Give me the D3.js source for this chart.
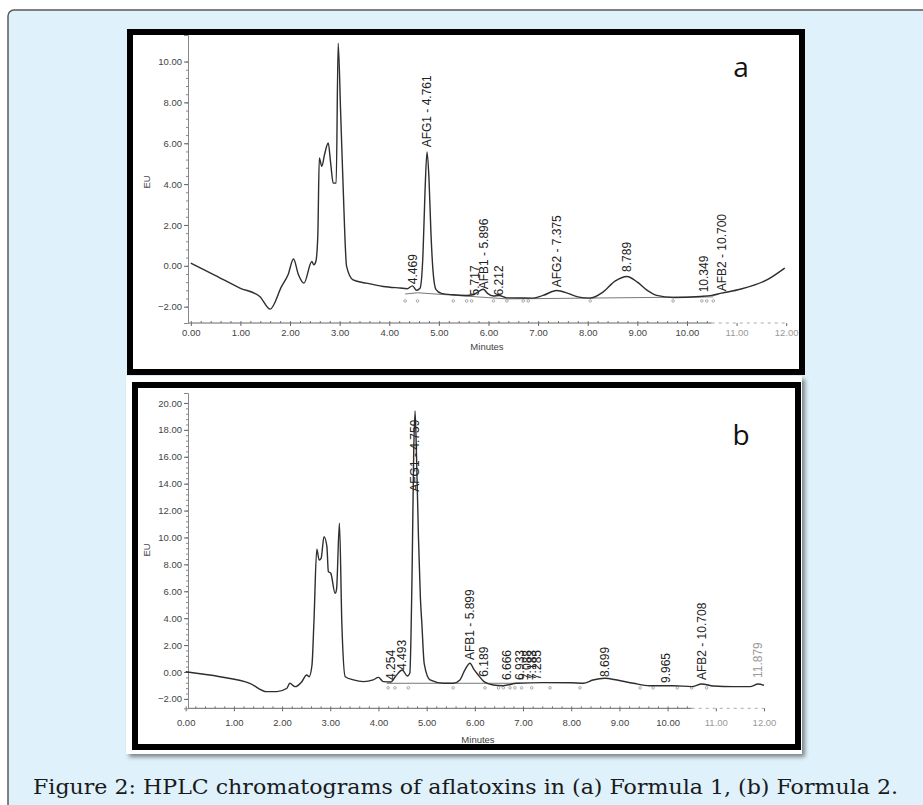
<!DOCTYPE html>
<html>
<head>
<meta charset="utf-8">
<script src="https://cdn.jsdelivr.net/npm/d3@7"></script>
<style>
  body { margin: 0; background: #fff; }
  svg { display: block; }
</style>
</head>
<body>
<div id="wrapper"></div>
<script>
// ---- data: panel a (Formula 1) ----
const timeA  = [0, 0.5, 0.99, 1.39, 1.60, 1.83, 1.96, 2.07, 2.17, 2.28, 2.44, 2.48, 2.52, 2.56, 2.59, 2.64, 2.70, 2.77, 2.82, 2.87, 2.93, 2.97, 3.02, 3.07, 3.14, 3.27, 3.54, 3.88, 4.22, 4.36, 4.469, 4.55, 4.62, 4.68, 4.72, 4.761, 4.80, 4.84, 4.88, 4.94, 5.05, 5.29, 5.55, 5.69, 5.76, 5.896, 5.98, 6.10, 6.212, 6.37, 6.90, 7.10, 7.375, 7.60, 7.80, 8.04, 8.30, 8.55, 8.789, 9.00, 9.20, 9.39, 9.72, 10.27, 10.50, 10.70, 11.07, 11.61, 11.97]
const valueA = [0.13, -0.48, -1.09, -1.5, -2.12, -1.01, -0.44, 0.33, -0.44, -0.85, 0.21, 0.05, 0.21, 1.5, 5.28, 4.87, 5.5, 6.01, 5.0, 4.05, 4.05, 10.9, 7.5, 3.89, -0.03, -0.69, -0.85, -1.01, -1.09, -1.12, -0.98, -1.2, -1.1, 0.6, 3.6, 5.58, 4.3, 1.6, -0.2, -1.15, -1.35, -1.42, -1.45, -1.42, -1.32, -1.15, -1.35, -1.48, -1.45, -1.57, -1.58, -1.45, -1.21, -1.35, -1.52, -1.58, -1.3, -0.75, -0.52, -0.8, -1.2, -1.45, -1.55, -1.5, -1.45, -1.34, -1.15, -0.69, -0.11]
const peakTimeA  = [4.469, 4.761, 5.717, 5.896, 6.212, 7.375, 8.789, 10.349, 10.700]
const peakNameA  = ["", "AFG1", "", "AFB1", "", "AFG2", "", "", "AFB2"]
const peakLabelA = [-0.9, 5.8, -1.45, -1.15, -1.45, -1.05, -0.3, -1.3, -1.25]
const baseTimeA  = [4.32, 4.57, 6.37, 10.53]
const baseValueA = [-1.38, -1.32, -1.62, -1.52]
const markTimeA  = [4.32, 4.57, 5.29, 5.56, 5.66, 6.10, 6.37, 6.70, 6.80, 8.05, 9.72, 10.30, 10.40, 10.53]

// ---- data: panel b (Formula 2) ----
const timeB  = [0, 0.71, 1.33, 1.68, 1.89, 2.10, 2.16, 2.27, 2.41, 2.51, 2.56, 2.62, 2.66, 2.72, 2.77, 2.81, 2.87, 2.93, 2.96, 3.01, 3.10, 3.13, 3.19, 3.24, 3.31, 3.48, 3.69, 3.89, 4.0, 4.10, 4.254, 4.36, 4.493, 4.6, 4.65, 4.70, 4.73, 4.759, 4.79, 4.83, 4.87, 4.90, 4.95, 5.07, 5.35, 5.55, 5.69, 5.80, 5.899, 5.98, 6.07, 6.189, 6.38, 6.59, 6.87, 7.42, 8.0, 8.25, 8.45, 8.699, 8.95, 9.29, 9.63, 10.12, 10.5, 10.708, 10.95, 11.36, 11.71, 11.879, 12.0]
const valueB = [0.02, -0.35, -0.84, -1.46, -1.46, -1.21, -0.84, -1.09, -0.72, -0.22, -0.35, 0.5, 3.62, 9.12, 8.33, 8.45, 10.06, 9.32, 7.46, 7.34, 5.85, 6.15, 11.06, 3.62, -0.35, -0.59, -0.72, -0.59, -0.4, -0.72, -0.75, -0.3, 0.15, -0.3, -0.1, 8.0, 16.0, 19.4, 16.0, 10.0, 5.5, 3.62, 0.6, -0.59, -0.84, -0.84, -0.59, 0.2, 0.65, 0.2, -0.22, -0.72, -0.97, -1.02, -0.84, -0.79, -0.8, -0.84, -0.6, -0.47, -0.6, -0.84, -1.02, -1.02, -1.09, -0.89, -1.04, -1.09, -1.09, -0.89, -1.0]
const peakTimeB  = [4.254, 4.493, 4.759, 5.899, 6.189, 6.666, 6.933, 7.088, 7.183, 7.285, 8.699, 9.965, 10.708, 11.879]
const peakNameB  = ["", "", "AFG1", "AFB1", "", "", "", "", "", "", "", "", "AFB2", ""]
const peakLabelB = [-0.59, 0.15, 13.4, 0.89, -0.35, -0.6, -0.6, -0.6, -0.6, -0.6, -0.37, -0.82, -0.6, -0.45]
const baseTimeB  = [4.17, 6.94]
const baseValueB = [-0.84, -0.84]
const markTimeB  = [4.20, 4.34, 4.62, 5.55, 6.21, 6.49, 6.59, 6.73, 6.83, 6.97, 7.18, 7.56, 8.18, 9.43, 9.70, 10.20, 10.50, 10.81]

const xTicks  = d3.range(0, 13)
const yTicksA = [-2, 0, 2, 4, 6, 8, 10]
const yTicksB = [-2, 0, 2, 4, 6, 8, 10, 12, 14, 16, 18, 20]
const caption = "Figure 2: HPLC chromatograms of aflatoxins in (a) Formula 1, (b) Formula 2."

// ---- layout ----
const width = 923, height = 805
const svg = d3.select("#wrapper").append("svg")
    .attr("width", width).attr("height", height)

const defs = svg.append("defs")
const shadow = defs.append("filter").attr("id", "shadow")
    .attr("x", "-5%").attr("y", "-5%").attr("width", "110%").attr("height", "110%")
shadow.append("feDropShadow").attr("dx", 3).attr("dy", 3)
    .attr("stdDeviation", 2).attr("flood-color", "#000").attr("flood-opacity", 0.45)

// light blue figure box
svg.append("rect").attr("x", 8).attr("y", 10).attr("width", width).attr("height", height)
    .attr("rx", 6).attr("fill", "#dff1fb")
    .attr("stroke", "#5a5a5a").attr("stroke-width", 1.5)

// panel frames
svg.append("rect").attr("x", 130).attr("y", 32).attr("width", 672).attr("height", 340)
    .attr("fill", "#fff").attr("stroke", "#000").attr("stroke-width", 6)
svg.append("rect").attr("x", 126).attr("y", 376).attr("width", 676).attr("height", 378)
    .attr("fill", "#fff").attr("filter", "url(#shadow)")
svg.append("rect").attr("x", 135).attr("y", 385).attr("width", 663).attr("height", 362)
    .attr("fill", "#fff").attr("stroke", "#000").attr("stroke-width", 6)

const panels = [
  { letter: "a", time: timeA, value: valueA, peakTime: peakTimeA, peakName: peakNameA, peakLabel: peakLabelA,
    baseTime: baseTimeA, baseValue: baseValueA, markTime: markTimeA, markValue: -1.72, yTicks: yTicksA,
    xRange: [190.8, 786.2], yDomain: [-2.8, 11.3], yRange: [323, 35], yAxisX: 188, xPad: 3,
    eu: [150, 182], minutes: [487, 350], letterPos: [741, 77] },
  { letter: "b", time: timeB, value: valueB, peakTime: peakTimeB, peakName: peakNameB, peakLabel: peakLabelB,
    baseTime: baseTimeB, baseValue: baseValueB, markTime: markTimeB, markValue: -1.18, yTicks: yTicksB,
    xRange: [185.7, 764], yDomain: [-2.7, 20.74], yRange: [708.3, 393], yAxisX: 188, xPad: 8,
    eu: [150, 550], minutes: [478, 743], letterPos: [741, 445] }
]

const tickFont = "'Liberation Sans', Arial, sans-serif"

function drawPanel(p) {
  const x = d3.scaleLinear().domain([0, 12]).range(p.xRange)
  const y = d3.scaleLinear().domain(p.yDomain).range(p.yRange)
  const g = svg.append("g")
  const axisY = y(p.yDomain[0])

  // minor ticks
  g.append("g").attr("transform", `translate(0,${axisY})`)
    .call(d3.axisBottom(x).tickValues(d3.range(0, 10.51, 0.2)).tickSize(-2).tickFormat(""))
    .call(a => a.select(".domain").remove())
    .selectAll("line").attr("stroke", "#777")
  g.append("g").attr("transform", `translate(${p.yAxisX},0)`)
    .call(d3.axisLeft(y).tickValues(d3.range(p.yTicks[0], p.yTicks[p.yTicks.length - 1] + 0.01, 0.4)).tickSize(2).tickFormat(""))
    .call(a => a.select(".domain").remove())
    .selectAll("line").attr("stroke", "#888")

  // x axis
  const xAxis = g.append("g").attr("transform", `translate(0,${axisY})`)
    .call(d3.axisBottom(x).tickValues(xTicks).tickSize(3).tickPadding(p.xPad).tickFormat(d3.format(".2f")))
  xAxis.select(".domain").remove()
  xAxis.selectAll("line").attr("stroke", "#666")
  xAxis.selectAll("text").attr("font-family", tickFont).attr("font-size", 9.5)
    .attr("fill", d => d > 10.5 ? "#999" : "#444")
  g.append("line").attr("x1", p.yAxisX).attr("x2", x(10.5)).attr("y1", axisY).attr("y2", axisY)
    .attr("stroke", "#666").attr("stroke-width", 1)
  g.append("line").attr("x1", x(10.5)).attr("x2", x(12)).attr("y1", axisY).attr("y2", axisY)
    .attr("stroke", "#aaa").attr("stroke-width", 1).attr("stroke-dasharray", "3,4")

  // y axis
  const yAxis = g.append("g").attr("transform", `translate(${p.yAxisX},0)`)
    .call(d3.axisLeft(y).tickValues(p.yTicks).tickSize(4).tickPadding(2).tickFormat(d3.format(".2f")))
  yAxis.select(".domain").attr("stroke", "#888")
  yAxis.selectAll("line").attr("stroke", "#666")
  yAxis.selectAll("text").attr("font-family", tickFont).attr("font-size", 9.5).attr("fill", "#444")

  // axis titles
  g.append("text").attr("transform", `translate(${p.eu[0]},${p.eu[1]}) rotate(-90)`)
    .attr("text-anchor", "middle").attr("font-family", tickFont).attr("font-size", 9.5)
    .attr("fill", "#444").text("EU")
  g.append("text").attr("x", p.minutes[0]).attr("y", p.minutes[1])
    .attr("text-anchor", "middle").attr("font-family", tickFont).attr("font-size", 9.5)
    .attr("fill", "#444").text("Minutes")

  // integration baseline + peak markers
  g.append("path").datum(p.baseTime.map((t, i) => [t, p.baseValue[i]]))
    .attr("fill", "none").attr("stroke", "#555").attr("stroke-width", 0.8)
    .attr("d", d3.line().x(d => x(d[0])).y(d => y(d[1])))
  g.selectAll(".mark").data(p.markTime).join("circle")
    .attr("cx", d => x(d)).attr("cy", y(p.markValue)).attr("r", 1.3)
    .attr("fill", "none").attr("stroke", "#888").attr("stroke-width", 0.7)

  // trace
  const trace = p.time.map((t, i) => [t, p.value[i]])
  g.append("path").datum(trace)
    .attr("fill", "none").attr("stroke", "#2e2e2e").attr("stroke-width", 1.4)
    .attr("stroke-linejoin", "round")
    .attr("d", d3.line().x(d => x(d[0])).y(d => y(d[1])).curve(d3.curveMonotoneX))

  // peak labels
  g.selectAll(".peak").data(p.peakTime).join("text")
    .attr("transform", (d, i) => `translate(${x(d)},${y(p.peakLabel[i])}) rotate(-90)`)
    .attr("dy", "0.35em")
    .attr("font-family", tickFont).attr("font-size", 12)
    .attr("fill", d => d > 11.5 ? "#999" : "#222")
    .text((d, i) => p.peakName[i] ? `${p.peakName[i]} - ${d.toFixed(3)}` : d.toFixed(3))

  // panel letter
  g.append("text").attr("x", p.letterPos[0]).attr("y", p.letterPos[1])
    .attr("text-anchor", "middle").attr("font-family", "'Open Sans', sans-serif")
    .attr("font-size", 28).attr("fill", "#111").text(p.letter)
}

panels.forEach(drawPanel)

// caption
svg.append("text").attr("x", 33).attr("y", 794)
    .attr("font-family", "'DejaVu Serif', serif")
    .attr("font-size", 21).attr("fill", "#1a1a1a")
    .attr("textLength", 865).attr("lengthAdjust", "spacingAndGlyphs")
    .text(caption)
</script>
</body>
</html>
